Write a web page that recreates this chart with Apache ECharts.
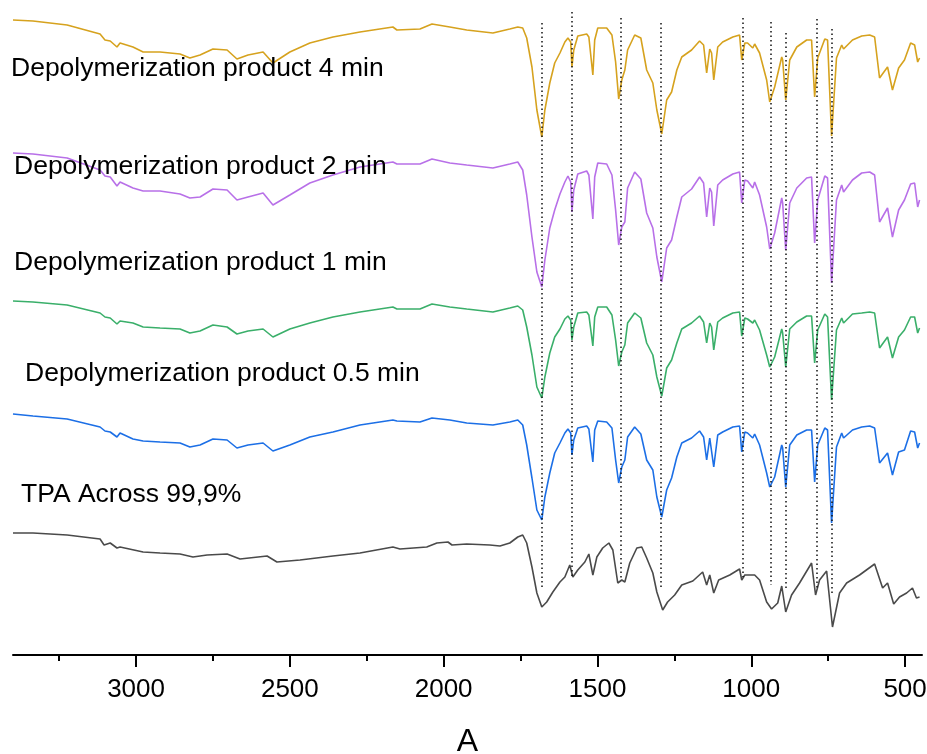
<!DOCTYPE html>
<html><head><meta charset="utf-8">
<script src="https://cdn.jsdelivr.net/npm/echarts@6/dist/echarts.min.js"></script>
<style>html,body{margin:0;padding:0;background:#fff}#c{width:927px;height:754px}</style>
</head><body><div id="c"></div>
<script>
// Wavenumbers (cm-1) shared by the four depolymerization-product spectra
const wnProduct = [3400,3335,3224,3117,3101,3084,3062,3052,3010,2977,2922,2857,2825,2792,2750,2704,2672,2636,2587,2555,2500,2435,2360,2272,2165,2152,2077,2038,1980,1925,1840,1785,
  1759,1743,1730,1713,1697, 1681,1671,1655,1639,1622, 1606,1596,1587,1583,1577, 1564,1535,1528,1515,1509,
  1499,1470,1453,1441,1431, 1421,1411,1402,1379,1359, 1340,1320,1307,1291,1275, 1259,1242,1226,1194,1168,
  1155,1145,1135,1129,1122, 1109,1093,1060,1038,1031, 1021,1012,995,989,973, 950,940,924,901,898,
  888,875,852,820,804, 794,784,761,752,739, 723,706,700,671,641, 615,599,583,557,541, 521,502,482,469,459, 453];

// Stacked transmittance (a.u., offset per trace)
const min4 = [635,634,630,621,615,614,608,612,608,603,603,601,597,600,606,605,596,600,603,592,603,612,618,623,628,625,626,631,628,625,622,626,
  628,627,617,588,545, 518,545,572,592,602, 613,617,613,588,605, 619,621,618,580,615,
  627,627,620,593,556, 575,585,605,620,617, 585,572,545,521,555, 563,585,598,605,614,
  610,582,606,602,575, 608,613,618,620,595, 612,612,607,611,602, 575,553,568,598,595,
  555,595,608,615,615, 558,597,616,615,519, 597,610,606,615,619, 620,618,577,588,565, 587,595,612,610,593, 597];
const min2 = [502,501,497,485,479,478,469,473,467,464,464,461,457,458,466,465,455,458,462,450,460,472,480,488,493,491,491,496,492,490,487,491,
  493,485,460,418,383, 368,395,427,445,461, 473,479,473,443,465, 481,484,480,436,478,
  492,491,480,445,410, 428,433,467,483,476, 442,427,398,373,407, 415,438,458,466,478,
  472,438,467,463,429, 470,475,481,483,452, 475,474,467,473,460, 428,406,422,457,452,
  405,452,467,477,478, 412,455,479,477,372, 455,470,463,475,482, 483,480,433,447,418, 445,455,471,472,448, 455];
const min1 = [354,353,350,342,338,337,331,334,332,328,327,326,322,324,330,328,321,324,326,318,326,332,338,343,348,346,346,351,348,346,343,347,
  349,345,328,300,268, 257,278,302,318,326, 336,339,335,315,328, 342,343,340,309,338,
  348,348,340,315,289, 303,310,332,342,337, 312,300,278,259,287, 295,312,326,332,339,
  333,312,332,328,305, 333,337,342,343,319, 337,336,332,335,325, 300,288,298,326,322,
  288,326,333,339,339, 292,325,341,338,255, 325,337,332,341,342, 343,342,307,318,297, 318,325,338,338,322, 327];
const min05 = [241,239,236,228,224,223,218,222,216,214,213,212,208,210,216,215,207,210,212,204,210,218,223,230,235,234,233,237,235,232,230,233,
  235,230,210,177,145, 135,158,182,202,212, 222,226,222,200,215, 227,229,226,193,225,
  234,233,227,195,172, 188,195,218,228,221, 195,185,158,138,165, 177,198,212,217,224,
  218,195,217,215,188, 220,223,228,229,203, 223,222,217,221,210, 182,168,178,210,207,
  168,210,220,225,225, 173,210,227,225,132, 208,222,217,225,228, 229,227,192,202,180, 203,205,224,223,207, 212];

// TPA reference spectrum
const wnTPA = [3400,3335,3224,3117,3104,3084,3062,3052,2977,2922, 2857,2815,2769,2704,2662,2574,2542,2467,2360,2272,
  2165,2142,2055,2022,1986,1973,1925,1850,1817,1785, 1759,1743,1730,1713,1697,1681,1665,1645,1622,1606,
  1590,1580,1564,1541,1528,1515,1502,1483,1463,1450, 1434,1421,1411,1395,1372,1356,1340,1320,1307,1288,
  1272,1249,1226,1190,1158,1145,1135,1122,1106,1070, 1038,1031,1021,989,973,950,934,914,901,888,
  869,843,804,791,778,755,736,713,690,648, 599,573,557,537,518,495,476,463,453];
const tpa = [122,122,120,116,110,112,107,108,103,102, 101,98,100,101,96,99,93,95,99,102,
  108,106,108,112,113,110,111,110,109,112, 118,120,112,88,62,48,53,63,73,78,
  90,78,85,93,101,80,98,107,112,105, 72,75,73,92,107,108,97,82,63,45,
  53,60,70,74,83,70,80,62,75,80, 86,75,80,80,75,53,46,52,69,43,
  60,72,92,60,75,84,28,62,72,80, 91,67,72,51,58,62,67,57,58];

// Dotted guide lines (band positions)
const guideWn = [1681,1583,1424,1294,1028,937,888,787,739];
const guideTop = [632,643,637,632,637,633,622,636,626];
const guideBottom = [68,77,75,68,78,70,67,65,62];

// Axis ticks
const majorTicks = [500,1000,1500,2000,2500,3000];
const minorTicks = [750,1250,1750,2250,2750,3250];

const seriesNames = ['Depolymerization product 4 min','Depolymerization product 2 min','Depolymerization product 1 min','Depolymerization product 0.5 min','TPA Across 99,9%'];
const seriesColors = ['#D6A21E','#B870E8','#3AAF6A','#1C6FE6','#4A4A4A'];
const labelPos = [[11,69],[14,167],[14,263],[25,374],[21,495]];

const FONT = '"Liberation Sans", Arial, sans-serif';
const chart = echarts.init(document.getElementById('c'), null, {renderer:'canvas'});
const zipP = v => wnProduct.map((w,i)=>[w, v[i]]);
const productVals = [min4, min2, min1, min05];

const series = [];
series.push({
  name: seriesNames[4], type:'line', xAxisIndex:0, data: wnTPA.map((w,i)=>[w,tpa[i]]),
  symbol:'none', lineStyle:{color:seriesColors[4], width:1.6}, z:3,
  markLine:{silent:true, symbol:['none','none'], animation:false, label:{show:false},
    lineStyle:{type:[1.5,3], color:'#111', width:1.5},
    data: guideWn.map((w,i)=>[{coord:[w,guideTop[i]]},{coord:[w,guideBottom[i]]}])}
});
productVals.forEach((v,k)=>{
  series.push({name:seriesNames[k], type:'line', xAxisIndex:0, data: zipP(v), symbol:'none',
    lineStyle:{color:seriesColors[k], width:1.6}, z:3});
});

chart.setOption({
  animation:false,
  backgroundColor:'#fff',
  grid:{left:13, right:5, top:0, bottom:99, outerBoundsMode:'none', containLabel:false},
  xAxis:[{
    type:'value', min:445, max:3400, inverse:true, position:'bottom',
    axisLine:{show:true, onZero:false, lineStyle:{color:'#000', width:2}},
    axisTick:{show:true, length:12, lineStyle:{color:'#000', width:2}, customValues: majorTicks},
    axisLabel:{customValues: majorTicks, fontSize:26, color:'#000', margin:22, fontFamily:FONT,
      formatter: v => String(v)},
    splitLine:{show:false},
    name:'A', nameLocation:'middle', nameGap:71,
    nameTextStyle:{fontSize:32, color:'#000', fontFamily:FONT}
  },{
    type:'value', min:445, max:3400, inverse:true, position:'bottom',
    axisLine:{show:false},
    axisTick:{show:true, length:6, lineStyle:{color:'#000', width:2}, customValues: minorTicks},
    axisLabel:{show:false}, splitLine:{show:false}
  }],
  yAxis:{type:'value', min:0, max:655, show:false, splitLine:{show:false}},
  series: series,
  graphic: seriesNames.map((t,i)=>({type:'text', x:labelPos[i][0], y:labelPos[i][1], z:10,
    style:{text:t, fill:'#000', font:'26.5px '+FONT, verticalAlign:'middle', align:'left'}}))
});
</script></body></html>
